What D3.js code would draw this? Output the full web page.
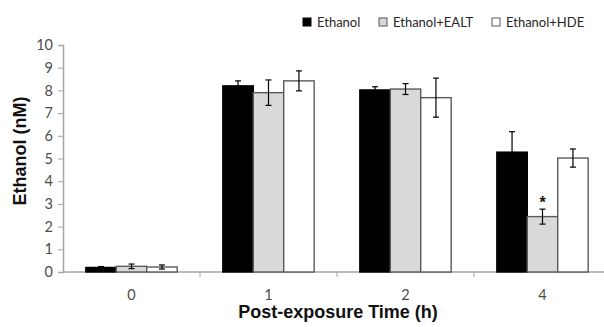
<!DOCTYPE html>
<html lang="en">
<head>
    <meta charset="UTF-8">
    <title>Ethanol post-exposure</title>
    <script src="https://d3js.org/d3.v7.min.js"></script>
    <style>
        body { margin: 0; background: #fff; }
        svg { display: block; }
        .ylab text, .xlab { font-family: Lato, "Open Sans", sans-serif; font-size: 14.5px; fill: #4d4d4d; }
        .axis-title { font-family: "Liberation Sans", Arial, sans-serif; font-weight: bold; font-size: 18px; fill: #111; }
        .legend text { font-family: Lato, "Open Sans", sans-serif; font-size: 13px; fill: #262626; }
    </style>
</head>
<body>
<div id="chart"></div>
<script>
    const categories = ["0", "1", "2", "4"];
    const seriesNames = ["Ethanol", "Ethanol+EALT", "Ethanol+HDE"];
    const ethanol = [0.2, 8.2, 8.02, 5.28];
    const ethanolErr = [0.04, 0.22, 0.14, 0.9];
    const ealt = [0.25, 7.9, 8.06, 2.44];
    const ealtErr = [0.1, 0.56, 0.24, 0.33];
    const hde = [0.22, 8.42, 7.68, 5.02];
    const hdeErr = [0.09, 0.44, 0.86, 0.4];
    const yTicks = [0, 1, 2, 3, 4, 5, 6, 7, 8, 9, 10];
    const significant = [{ cat: "4", series: "Ethanol+EALT" }];

    const W = 604, H = 327;
    const fills = ["#000000", "#d9d9d9", "#ffffff"];

    const svg = d3.select("#chart").append("svg")
        .attr("width", W).attr("height", H);

    const x = d3.scaleBand().domain(categories).range([63, 611]);
    const y = d3.scaleLinear().domain([0, 10]).range([272, 45]);
    const inner = d3.scaleBand().domain(seriesNames)
        .range([0, x.bandwidth()]).paddingOuter(0.75).paddingInner(0);

    // y axis
    const yAxis = svg.append("g").attr("class", "ylab").attr("transform", "translate(63,0)")
        .call(d3.axisLeft(y).tickValues(yTicks).tickSize(5).tickPadding(5));
    yAxis.select(".domain").attr("stroke", "#a6a6a6").attr("stroke-width", 1.5);
    yAxis.selectAll(".tick line").attr("stroke", "#a6a6a6");
    yAxis.selectAll(".tick text").attr("fill", null);
    yAxis.attr("font-size", null).attr("font-family", null);

    // x axis: ticks on category boundaries
    const xAxisG = svg.append("g").attr("transform", "translate(0,272)");
    xAxisG.append("line").attr("x1", 63).attr("x2", W).attr("y1", 0).attr("y2", 0)
        .attr("stroke", "#a6a6a6").attr("stroke-width", 1.5);
    xAxisG.selectAll(".btick").data(categories.slice(1)).enter().append("line")
        .attr("x1", d => x(d)).attr("x2", d => x(d))
        .attr("y1", 0).attr("y2", 5).attr("stroke", "#a6a6a6");
    xAxisG.selectAll(".xlab").data(categories).enter().append("text")
        .attr("class", "xlab")
        .attr("x", d => x(d) + x.bandwidth() / 2).attr("y", 28)
        .attr("text-anchor", "middle")
        .text(d => d);

    const rows = categories.map((c, i) => ({
        cat: c,
        vals: [
            { s: seriesNames[0], v: ethanol[i], e: ethanolErr[i] },
            { s: seriesNames[1], v: ealt[i], e: ealtErr[i] },
            { s: seriesNames[2], v: hde[i], e: hdeErr[i] }
        ]
    }));

    const groups = svg.selectAll(".grp").data(rows).enter().append("g")
        .attr("transform", d => `translate(${x(d.cat)},0)`);

    groups.selectAll("rect").data(d => d.vals).enter().append("rect")
        .attr("x", d => inner(d.s))
        .attr("y", d => y(d.v))
        .attr("width", inner.bandwidth())
        .attr("height", d => y(0) - y(d.v))
        .attr("fill", (d, i) => fills[i])
        .attr("stroke", (d, i) => i === 0 ? "#000" : "#5a5a5a")
        .attr("stroke-width", 1.4);

    // error bars
    const eb = groups.selectAll(".eb").data(d => d.vals).enter().append("g")
        .attr("stroke", "#000").attr("stroke-width", 1.2);
    const cx = d => inner(d.s) + inner.bandwidth() / 2;
    eb.append("line").attr("x1", cx).attr("x2", cx)
        .attr("y1", d => y(d.v + d.e)).attr("y2", d => y(Math.max(0, d.v - d.e)));
    eb.append("line").attr("x1", d => cx(d) - 3).attr("x2", d => cx(d) + 3)
        .attr("y1", d => y(d.v + d.e)).attr("y2", d => y(d.v + d.e));
    eb.append("line").attr("x1", d => cx(d) - 3).attr("x2", d => cx(d) + 3)
        .attr("y1", d => y(Math.max(0, d.v - d.e))).attr("y2", d => y(Math.max(0, d.v - d.e)));

    // significance star
    significant.forEach(sig => {
        const i = categories.indexOf(sig.cat);
        const j = seriesNames.indexOf(sig.series);
        const d = rows[i].vals[j];
        svg.append("text")
            .attr("x", x(sig.cat) + inner(sig.series) + inner.bandwidth() / 2)
            .attr("y", y(d.v + d.e) - 1)
            .attr("text-anchor", "middle")
            .style("font-family", "Liberation Sans, Arial, sans-serif")
            .style("font-size", "16px").style("font-weight", "bold")
            .style("fill", "#111")
            .text("*");
    });

    // axis titles
    svg.append("text").attr("class", "axis-title")
        .attr("transform", "translate(26,151) rotate(-90)")
        .attr("text-anchor", "middle")
        .text("Ethanol (nM)");
    svg.append("text").attr("class", "axis-title")
        .attr("x", 338).attr("y", 318)
        .attr("text-anchor", "middle")
        .text("Post-exposure Time (h)");

    // legend
    const legendX = [303, 379, 492];
    const legend = svg.append("g").attr("class", "legend");
    seriesNames.forEach((s, i) => {
        legend.append("rect")
            .attr("x", legendX[i]).attr("y", 18).attr("width", 8).attr("height", 8)
            .attr("fill", fills[i])
            .attr("stroke", i === 0 ? "#000" : "#555").attr("stroke-width", 1);
        legend.append("text")
            .attr("x", legendX[i] + 14).attr("y", 27)
            .text(s);
    });
</script>
</body>
</html>
